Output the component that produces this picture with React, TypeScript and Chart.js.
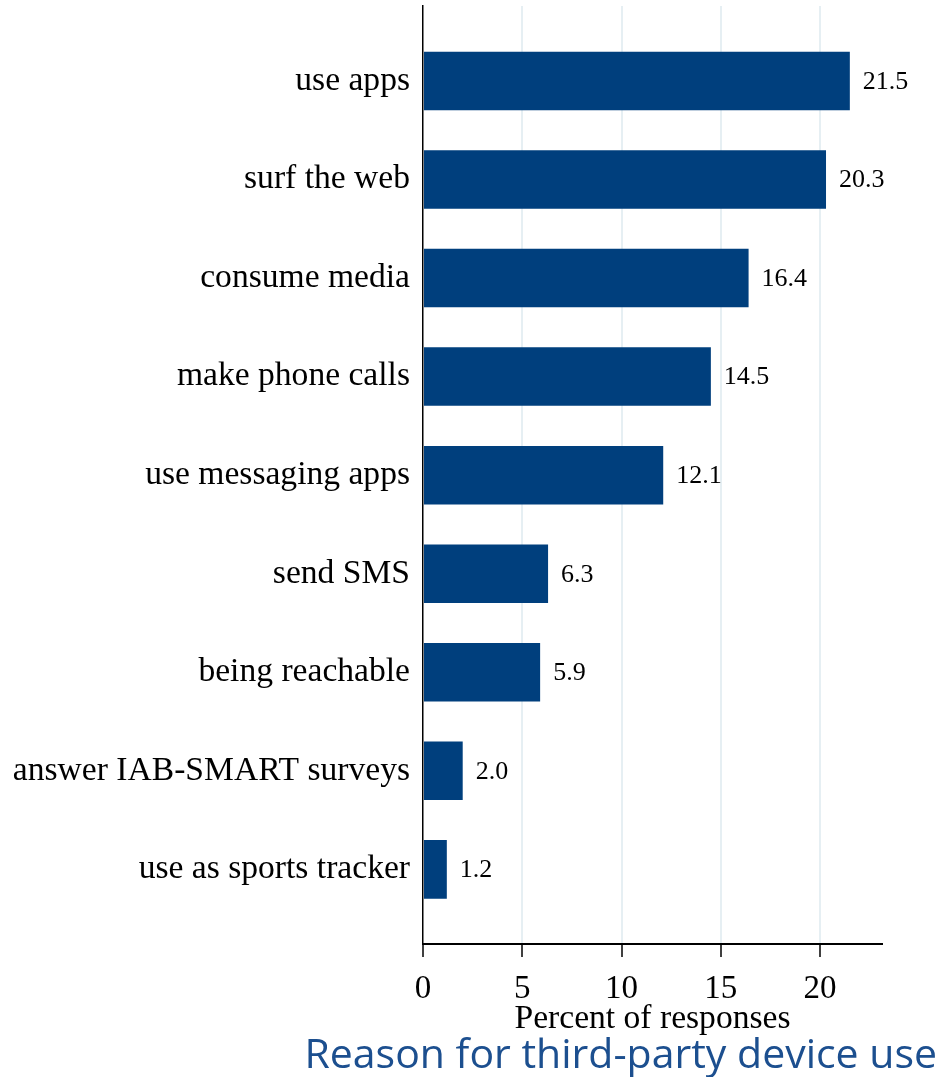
import React, { useEffect, useRef } from "react";
import { Chart, registerables } from "chart.js";

Chart.register(...registerables);

const categories = [
  "use apps",
  "surf the web",
  "consume media",
  "make phone calls",
  "use messaging apps",
  "send SMS",
  "being reachable",
  "answer IAB-SMART surveys",
  "use as sports tracker",
];
const values = [21.5, 20.3, 16.4, 14.5, 12.1, 6.3, 5.9, 2.0, 1.2];
const xTickValues = [0, 5, 10, 15, 20];
const xAxisTitle = "Percent of responses";
const chartTitle = "Reason for third-party device use";

const SERIF = "'Liberation Serif', 'Times New Roman', serif";

const valueLabels = {
  id: "valueLabels",
  afterDatasetsDraw(chart: any) {
    const ctx = chart.ctx;
    const meta = chart.getDatasetMeta(0);
    ctx.save();
    ctx.font = `26px ${SERIF}`;
    ctx.fillStyle = "#000";
    ctx.textAlign = "left";
    ctx.textBaseline = "middle";
    meta.data.forEach((bar: any, i: number) => {
      ctx.fillText(values[i].toFixed(1), bar.x + 13, bar.y + 1);
    });
    ctx.restore();
  },
};

export default function App() {
  const ref = useRef<HTMLCanvasElement>(null);
  useEffect(() => {
    if (!ref.current) return;
    const chart = new Chart(ref.current, {
      type: "bar",
      data: {
        datasets: [
          {
            data: values.map((v, i) => ({ x: v, y: i })) as any,
            backgroundColor: "#003f7d",
            borderWidth: 0,
            barPercentage: 0.594,
            categoryPercentage: 1,
          },
        ],
      },
      options: {
        indexAxis: "y",
        animation: false,
        responsive: false,
        layout: { padding: { top: 6, left: 0, right: 6, bottom: 0 } },
        plugins: {
          legend: { display: false },
          tooltip: { enabled: false },
          title: {
            display: true,
            text: chartTitle,
            position: "bottom",
            align: "end",
            color: "#1c4f8f",
            font: { family: "'Open Sans', sans-serif", size: 41, weight: "normal", lineHeight: 1 },
            padding: { top: 0, bottom: 0 },
          },
        },
        scales: {
          x: {
            type: "linear",
            position: "bottom",
            min: 0,
            max: 23.12,
            afterBuildTicks(scale: any) {
              scale.ticks = xTickValues.map((v) => ({ value: v }));
            },
            afterFit(scale: any) {
              scale.height = 92;
            },
            ticks: {
              color: "#000",
              font: { family: SERIF, size: 33, lineHeight: 1 },
              padding: 16,
              includeBounds: false,
              maxRotation: 0,
            },
            grid: {
              color: (ctx: any) => (ctx.tick && ctx.tick.value === 0 ? "rgba(0,0,0,0)" : "#e6eff3"),
              lineWidth: 2,
              tickColor: "#000",
              tickLength: 13,
              tickWidth: 1.5,
            },
            border: { display: true, color: "#000", width: 2 },
            title: {
              display: true,
              text: xAxisTitle,
              color: "#000",
              font: { family: SERIF, size: 33.6, lineHeight: 1 },
              padding: { top: 0, bottom: 0 },
            },
          },
          y: {
            type: "linear",
            reverse: true,
            offset: false,
            min: -0.76,
            max: 8.757,
            afterBuildTicks(scale: any) {
              scale.ticks = categories.map((_, i) => ({ value: i }));
            },
            afterFit(scale: any) {
              scale.width = 423;
              scale.paddingTop = 0;
              scale.paddingBottom = 0;
            },
            ticks: {
              color: "#000",
              font: { family: SERIF, size: 33.6 },
              padding: 13,
              autoSkip: false,
              callback: (v: any) => categories[v as number] ?? "",
            },
            grid: { display: false, drawTicks: false },
            border: { display: true, color: "#000", width: 1.5 },
          },
          y2: {
            type: "linear",
            position: "right",
            display: true,
            afterFit(scale: any) {
              scale.width = 55;
              scale.paddingTop = 0;
              scale.paddingBottom = 0;
            },
            ticks: { display: false },
            grid: { display: false, drawTicks: false },
            border: { display: false },
          },
        },
      },
      plugins: [valueLabels],
    });
    return () => chart.destroy();
  }, []);
  return (
    <div style={{ position: "absolute", left: 0, top: 0, width: 943, height: 1077 }}>
      <canvas ref={ref} width={943} height={1077} />
    </div>
  );
}
